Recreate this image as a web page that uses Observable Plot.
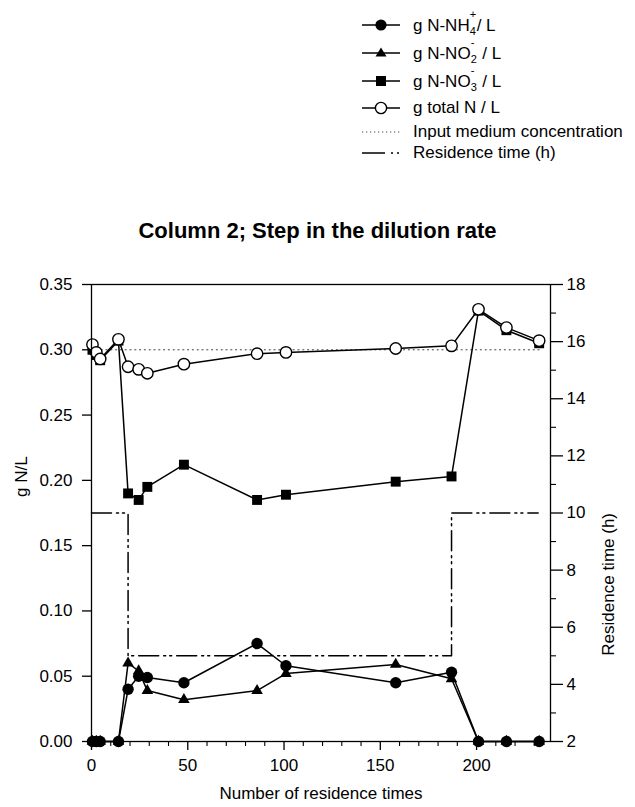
<!DOCTYPE html>
<html>
<head>
<meta charset="utf-8">
<script src="https://cdn.jsdelivr.net/npm/d3@7"></script>
<script src="https://cdn.jsdelivr.net/npm/@observablehq/plot@0.6"></script>
<style>
  html, body { margin: 0; padding: 0; background: #fff; }
  #page { position: relative; width: 635px; height: 807px; font-family: "Liberation Sans", Arial, sans-serif; color: #000; overflow: hidden; }
  .lrow { position: absolute; left: 360px; height: 20px; display: flex; align-items: center; font-size: 17px; white-space: nowrap; }
  .lrow svg { flex: none; }
  .lrow .lt { margin-left: 11px; }
  .stack { position: relative; display: inline-block; width: 7px; height: 1em; }
  .stack .sp { position: absolute; left: 0; top: -5px; font-size: 11px; line-height: 11px; }
  .stack .sb { position: absolute; left: 0; bottom: -6px; font-size: 11px; line-height: 11px; }
  #title { position: absolute; left: 0; width: 635px; top: 220px; text-align: center; font-weight: bold; font-size: 22px; line-height: 22px; }
  #chart { position: absolute; left: 0; top: 260px; }
</style>
</head>
<body>
<div id="page">
  <div id="legend"></div>
  <div id="title">Column 2; Step in the dilution rate</div>
  <div id="chart"></div>
</div>
<script>
// ---- data ----
const times  = [0.5, 2.5, 4.5, 14, 19, 24.5, 29, 48, 86, 101, 158, 187, 201, 215.5, 232.5];
const nh4    = [0, 0, 0, 0, 0.040, 0.050, 0.049, 0.045, 0.075, 0.058, 0.045, 0.053, 0, 0, 0];
const no2    = [0, 0, 0, 0, 0.060, 0.054, 0.039, 0.032, 0.039, 0.052, 0.059, 0.048, 0, 0, 0];
const no3    = [0.300, 0.296, 0.292, 0.307, 0.190, 0.185, 0.195, 0.212, 0.185, 0.189, 0.199, 0.203, 0.330, 0.315, 0.305];
const totalN = [0.304, 0.298, 0.293, 0.308, 0.287, 0.285, 0.282, 0.289, 0.297, 0.298, 0.301, 0.303, 0.331, 0.317, 0.307];

const inputX = [0, 233];
const inputConc = [0.30, 0.30];

const resX = [0, 19, 19, 187, 187, 232];
const resH = [10, 10, 5, 5, 10, 10];

const xTicks = [0, 50, 100, 150, 200];
const xMinor = [10, 20, 30, 40, 60, 70, 80, 90, 110, 120, 130, 140, 160, 170, 180, 190, 210, 220, 230];
const yTicks = [0, 0.05, 0.10, 0.15, 0.20, 0.25, 0.30, 0.35];
const rTicks = [2, 4, 6, 8, 10, 12, 14, 16, 18];
const rMinor = [3, 5, 7, 9, 11, 13, 15, 17];

const legendLabels = [
  'g N-NH<span class="stack"><span class="sp">+</span><span class="sb">4</span></span>/ L',
  'g N-NO<span class="stack"><span class="sp">-</span><span class="sb">2</span></span> / L',
  'g N-NO<span class="stack"><span class="sp">-</span><span class="sb">3</span></span> / L',
  'g total N / L',
  'Input medium concentration',
  'Residence time (h)'
];

// ---- scales ----
const yMax = 0.35, rMin = 2, rMax = 18;
const rToY = r => (r - rMin) / (rMax - rMin) * yMax;
const yToR = y => y / yMax * (rMax - rMin) + rMin;

const rows = (ys) => times.map((t, i) => ({x: t, y: ys[i]}));
const dNH4 = rows(nh4), dNO2 = rows(no2), dNO3 = rows(no3), dTot = rows(totalN);
const dInput = inputX.map((x, i) => ({x, y: inputConc[i]}));
const dRes = resX.map((x, i) => ({x, y: rToY(resH[i])}));

const font = '"Liberation Sans", Arial, sans-serif';
const lw = 1.5;

const chart = Plot.plot({
  width: 635,
  height: 547,
  marginTop: 24,
  marginBottom: 66,
  marginLeft: 91,
  marginRight: 85,
  x: {domain: [0, 238.4]},
  y: {domain: [0, yMax]},
  style: {fontFamily: font, fontSize: "17px", color: "#000", background: "transparent", overflow: "visible"},
  marks: [
    Plot.line(dInput, {x: "x", y: "y", stroke: "#444", strokeWidth: 1, strokeDasharray: "1.2,3.6"}),
    Plot.line(dRes, {x: "x", y: "y", stroke: "#000", strokeWidth: 1.5, strokeDasharray: "20,5,2,4,2,5"}),
    Plot.line(dNO3, {x: "x", y: "y", stroke: "#000", strokeWidth: lw}),
    Plot.dot(dNO3, {x: "x", y: "y", symbol: "square", r: 5.6, fill: "#000", stroke: "none"}),
    Plot.line(dNO2, {x: "x", y: "y", stroke: "#000", strokeWidth: lw}),
    Plot.dot(dNO2, {x: "x", y: "y", symbol: "triangle", r: 4.3, fill: "#000", stroke: "none"}),
    Plot.line(dNH4, {x: "x", y: "y", stroke: "#000", strokeWidth: lw}),
    Plot.dot(dNH4, {x: "x", y: "y", r: 5.7, fill: "#000", stroke: "none"}),
    Plot.line(dTot, {x: "x", y: "y", stroke: "#000", strokeWidth: lw}),
    Plot.dot(dTot, {x: "x", y: "y", r: 5.7, fill: "#fff", stroke: "#000", strokeWidth: 1.4}),
    Plot.frame({stroke: "#000", strokeWidth: 1.3}),
    Plot.axisX({ticks: xTicks, tickSize: 9, tickPadding: 8, tickFormat: d => String(d), label: null, strokeWidth: 1.3}),
    Plot.axisX({ticks: xMinor, tickSize: 5, tickFormat: () => "", label: null, strokeWidth: 1.1}),
    Plot.axisY({ticks: yTicks, anchor: "left", tickSize: 9, tickPadding: 10, tickFormat: d => d.toFixed(2), label: null, strokeWidth: 1.3}),
    Plot.axisY({ticks: rTicks.map(rToY), anchor: "right", tickSize: 12, tickPadding: 4, tickFormat: d => String(Math.round(yToR(d))), label: null, strokeWidth: 1.3}),
    Plot.axisY({ticks: rMinor.map(rToY), anchor: "right", tickSize: 5, tickFormat: () => "", label: null, strokeWidth: 1.1}),
    Plot.text(["g N/L"], {frameAnchor: "left", dx: -70, dy: -16, rotate: -90, fontSize: 17}),
    Plot.text(["Residence time (h)"], {frameAnchor: "right", dx: 58, rotate: -90, fontSize: 17}),
    Plot.text(["Number of residence times"], {frameAnchor: "bottom", dy: 57, fontSize: 17})
  ]
});
document.getElementById("chart").appendChild(chart);

// ---- legend ----
const rowCenters = [25, 53, 81, 108, 132, 153];
const samples = [
  '<line x1="2" y1="10" x2="40" y2="10" stroke="#000" stroke-width="1.6"/><circle cx="21" cy="10" r="5.6" fill="#000"/>',
  '<line x1="2" y1="10" x2="40" y2="10" stroke="#000" stroke-width="1.6"/><path d="M21,4.5 L26.5,13.5 L15.5,13.5 Z" fill="#000"/>',
  '<line x1="2" y1="10" x2="40" y2="10" stroke="#000" stroke-width="1.6"/><rect x="16" y="5" width="10" height="10" fill="#000"/>',
  '<line x1="2" y1="10" x2="40" y2="10" stroke="#000" stroke-width="1.6"/><circle cx="21" cy="10" r="5.6" fill="#fff" stroke="#000" stroke-width="1.4"/>',
  '<line x1="2" y1="10" x2="40" y2="10" stroke="#444" stroke-width="1" stroke-dasharray="1.2,2.8"/>',
  '<line x1="2" y1="10" x2="25" y2="10" stroke="#000" stroke-width="1.5"/><line x1="31" y1="10" x2="33" y2="10" stroke="#000" stroke-width="1.5"/><line x1="37" y1="10" x2="39" y2="10" stroke="#000" stroke-width="1.5"/>'
];
const legend = document.getElementById("legend");
legendLabels.forEach((lab, i) => {
  const row = document.createElement("div");
  row.className = "lrow";
  row.style.top = (rowCenters[i] - 10) + "px";
  row.innerHTML = `<svg width="42" height="20" viewBox="0 0 42 20">${samples[i]}</svg><span class="lt">${lab}</span>`;
  legend.appendChild(row);
});
</script>
</body>
</html>
